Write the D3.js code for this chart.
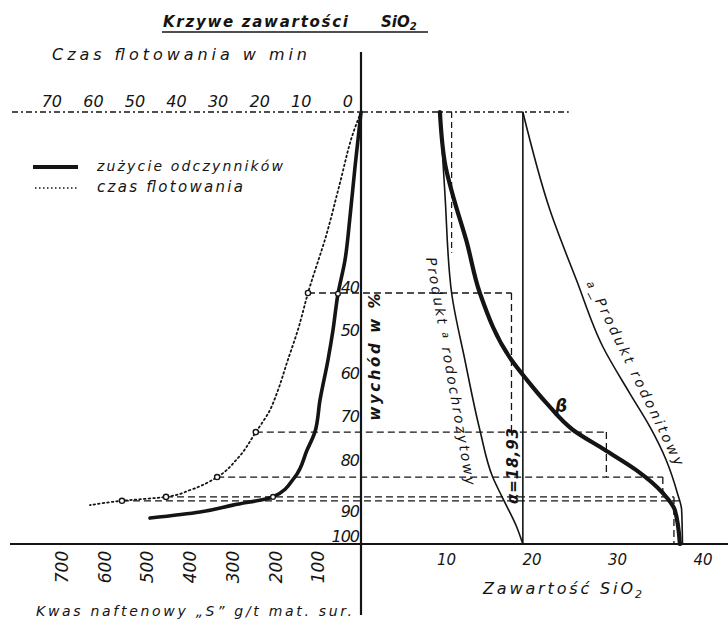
<!DOCTYPE html>
<html><head><meta charset="utf-8">
<script src="https://cdn.jsdelivr.net/npm/d3@7"></script>
<style>
html,body{margin:0;padding:0;background:#fff;}
svg{display:block;}
text{font-family:"DejaVu Sans",sans-serif;font-style:italic;fill:#141414;}
</style></head><body>
<svg id="chart" width="728" height="627"></svg>
<script>
// Tick labels
const recoveryTicks = [40, 50, 60, 70, 80, 90, 100];
const timeTicks = [0, 10, 20, 30, 40, 50, 60, 70];
const reagentTicks = [100, 200, 300, 400, 500, 600, 700];
const silicaTicks = [10, 20, 30, 40];

// Czas flotowania (min) vs wychód (%)
const timeMin      = [0, 1.9, 5.05, 8.2, 12.75, 15.2, 17.6, 20.2, 21.9, 25.3, 29.6, 34.6, 41.1, 46.9, 57.5, 65.2];
const timeRecovery = [0, 4.9, 16.4, 28.0, 41.9, 50.5, 57.4, 65.0, 69.0, 74.1, 80.1, 84.5, 87.5, 89.1, 90.0, 91.0];

// Zużycie odczynników – kwas naftenowy (g/t) vs wychód (%)
const reagentDose     = [0, 14, 25.8, 37.5, 53.9, 65.6, 77.3, 96, 108, 126, 155, 206, 300, 377, 494];
const reagentRecovery = [0, 12.7, 24.3, 34.3, 42.1, 50.5, 57.4, 66.7, 74.1, 78.2, 84.5, 89.1, 91.0, 92.6, 94.0];

// Produkt rodochrozytowy – SiO2 (%) vs wychód (%)
const rhodoSiO2     = [9.23, 9.81, 10.6, 12.15, 13.9, 15.4, 16.5, 18.2, 18.93];
const rhodoRecovery = [0, 18.75, 41.9, 57.4, 73.6, 84.5, 89.1, 96.0, 100];

// Krzywa β – SiO2 (%) vs wychód (%)
const betaSiO2     = [9.23, 9.9, 10.9, 12.3, 13.9, 17.6, 19.4, 21.7, 24.8, 28.5, 32.2, 35.3, 36.7, 37.3];
const betaRecovery = [0, 12.7, 20.4, 29.6, 41.9, 57.4, 62.0, 67.4, 73.6, 78.2, 82.9, 88.2, 92.1, 100];

// Produkt rodonitowy – SiO2 (%) vs wychód (%)
const rhodonSiO2     = [18.93, 22.1, 25.2, 28.3, 31.4, 33.8, 35.7, 37.0, 37.5, 37.6];
const rhodonRecovery = [0, 22.7, 38.9, 54.4, 65.0, 72.9, 80.6, 88.2, 92.1, 100];

// Średnia zawartość SiO2
const alphaSiO2 = 18.93;

// Punkty pomiarowe (czas, wychód, zawartość SiO2 koncentratu)
const sampleTime     = [12.75, 25.3, 34.6, 46.9, 57.5];
const sampleRecovery = [41.9, 74.1, 84.5, 89.1, 90.0];
const sampleSiO2     = [17.6, 28.7, 35.3, 36.6, 37.3];
const reagentMarkDose     = [53.9, 206];
const reagentMarkRecovery = [42.1, 89.1];
// Górna linia pomocnicza
const firstStepSiO2 = 10.6, firstStepRecovery = 32.6;

const svg = d3.select("#chart");
const ink = "#141414";

const y = d3.scaleLinear().domain([0, 100]).range([112, 544]);
const xTime = d3.scaleLinear().domain([0, 70]).range([361, 70]);
const xReag = d3.scaleLinear().domain([0, 700]).range([361, 62]);
const xSi = d3.scaleLinear().domain([0, 40]).range([361, 703]);

const g = svg.append("g");

// Guide lines (dashed)
const dash = "7,4";
function seg(x1, y1, x2, y2, da, w) {
  g.append("line").attr("x1", x1).attr("y1", y1).attr("x2", x2).attr("y2", y2)
    .attr("stroke", ink).attr("stroke-width", w || 1.3).attr("stroke-dasharray", da || dash);
}
// top line at time 0 / recovery 0
seg(12, y(0), xSi(24.3), y(0), "6,3,2,3", 1.6);
// first vertical guide
seg(xSi(firstStepSiO2), y(0), xSi(firstStepSiO2), y(firstStepRecovery), "6,4", 1.2);
// step guides from each sample
sampleRecovery.forEach((r, i) => {
  seg(xTime(sampleTime[i]), y(r), xSi(sampleSiO2[i]), y(r));
  if (i < sampleRecovery.length - 1) {
    const next = i === sampleRecovery.length - 2 ? 100 : sampleRecovery[i + 1];
    seg(xSi(sampleSiO2[i]), y(r), xSi(sampleSiO2[i]), y(next));
  }
});

// Axes
g.append("line").attr("x1", 10).attr("x2", 728).attr("y1", y(100)).attr("y2", y(100))
  .attr("stroke", ink).attr("stroke-width", 2.2);
g.append("line").attr("x1", xReag(0)).attr("x2", xReag(0)).attr("y1", 52).attr("y2", 615)
  .attr("stroke", ink).attr("stroke-width", 2.2);
// average SiO2 line
g.append("line").attr("x1", xSi(alphaSiO2)).attr("x2", xSi(alphaSiO2)).attr("y1", y(0)).attr("y2", y(100))
  .attr("stroke", ink).attr("stroke-width", 1.6);

// Curves
const curve = d3.curveMonotoneY;
function drawCurve(xs, ys, xScale, width, da) {
  const pts = xs.map((v, i) => [xScale(v), y(ys[i])]);
  g.append("path").attr("d", d3.line().curve(curve)(pts))
    .attr("fill", "none").attr("stroke", ink).attr("stroke-width", width)
    .attr("stroke-linecap", "round").attr("stroke-dasharray", da || null);
}
drawCurve(timeMin, timeRecovery, xTime, 1.8, "1.6,3");
drawCurve(reagentDose, reagentRecovery, xReag, 3.6);
drawCurve(rhodoSiO2, rhodoRecovery, xSi, 1.6);
drawCurve(betaSiO2, betaRecovery, xSi, 4.2);
drawCurve(rhodonSiO2, rhodonRecovery, xSi, 1.6);

// Markers
g.selectAll("circle.t").data(sampleTime).join("circle")
  .attr("cx", d => xTime(d)).attr("cy", (d, i) => y(sampleRecovery[i])).attr("r", 2.6)
  .attr("fill", "#fff").attr("stroke", ink).attr("stroke-width", 1.4);
g.selectAll("circle.r").data(reagentMarkDose).join("circle")
  .attr("cx", d => xReag(d)).attr("cy", (d, i) => y(reagentMarkRecovery[i])).attr("r", 2.4)
  .attr("fill", "#fff").attr("stroke", ink).attr("stroke-width", 1.3);

// Text helpers
function label(txt, x, yy, opts) {
  opts = opts || {};
  const t = g.append("text").attr("x", x).attr("y", yy).text(txt)
    .attr("font-size", opts.size || 15)
    .attr("text-anchor", opts.anchor || "start")
    .attr("font-weight", opts.weight || "normal");
  if (opts.len) t.attr("textLength", opts.len).attr("lengthAdjust", "spacing");
  if (opts.rot !== undefined) t.attr("transform", `rotate(${opts.rot},${x},${yy})`);
  if (opts.base) t.attr("dominant-baseline", opts.base);
  return t;
}

// Title
label("Krzywe  zawartości", 163, 27, {size: 15, weight: "bold", len: 185});
const si = label("SiO", 381, 27, {size: 15, weight: "bold"});
si.append("tspan").attr("font-size", 10).attr("dy", 3).text("2");
g.append("line").attr("x1", 162).attr("x2", 428).attr("y1", 32).attr("y2", 32)
  .attr("stroke", ink).attr("stroke-width", 1.6);

// Time axis
label("Czas  flotowania   w   min", 52, 60, {size: 16, len: 255});
g.selectAll("text.tt").data(timeTicks).join("text")
  .attr("x", d => xTime(d) - 8).attr("y", 107).attr("text-anchor", "end")
  .attr("font-size", 16).text(d => d);

// Legend
g.append("line").attr("x1", 33).attr("x2", 78).attr("y1", 167).attr("y2", 167)
  .attr("stroke", ink).attr("stroke-width", 4);
g.append("line").attr("x1", 35).attr("x2", 78).attr("y1", 188).attr("y2", 188)
  .attr("stroke", ink).attr("stroke-width", 1.3).attr("stroke-dasharray", "1.5,2.5");
label("zużycie  odczynników", 97, 171, {size: 14, len: 186});
label("czas  flotowania", 97, 192, {size: 15, len: 146});

// Recovery axis labels (hand-placed offsets near the bottom)
const tickOffset = d => d === 100 ? -2 : d === 90 ? 16 : 8;
g.selectAll("text.rt").data(recoveryTicks).join("text")
  .attr("x", 359).attr("y", d => y(d) + tickOffset(d))
  .attr("text-anchor", "end").attr("font-size", 16).attr("letter-spacing", -1)
  .text(d => d);
label("wychód  w  %", 375, 357, {size: 15, weight: "bold", anchor: "middle", rot: -90, base: "central", len: 127});

// Reagent axis labels
g.selectAll("text.gt").data(reagentTicks).join("text")
  .attr("x", d => xReag(d)).attr("y", 567)
  .attr("text-anchor", "middle").attr("dominant-baseline", "central")
  .attr("font-size", 17)
  .attr("transform", d => `rotate(-90,${xReag(d)},567)`)
  .text(d => d);
label("Kwas   naftenowy    „S”  g/t  mat. sur.", 36, 616, {size: 14, len: 316});

// SiO2 axis labels
g.selectAll("text.st").data(silicaTicks).join("text")
  .attr("x", d => xSi(d)).attr("y", 565).attr("text-anchor", "middle")
  .attr("font-size", 15).text(d => d);
label("Zawartość   SiO", 483, 594, {size: 16, len: 150});
label("2", 635, 598, {size: 11});

// Curve annotations
const rh = label("Produkt ", 446, 372, {size: 14, anchor: "middle", rot: 80, len: 231});
rh.append("tspan").attr("font-size", 10).attr("dy", -3).text("a");
rh.append("tspan").attr("dy", 3).text(" rodochrozytowy");
const rn = label("", 631, 375, {size: 14, anchor: "middle", rot: 64, len: 204});
rn.append("tspan").attr("font-size", 11).text("a");
rn.append("tspan").text("_Produkt  rodonitowy");
label("β", 561, 412, {size: 17, weight: "bold", anchor: "middle"});
label("α=18,93", 513, 466, {size: 15, weight: "bold", anchor: "middle", rot: -90, base: "central", len: 76});
</script>
</body></html>
